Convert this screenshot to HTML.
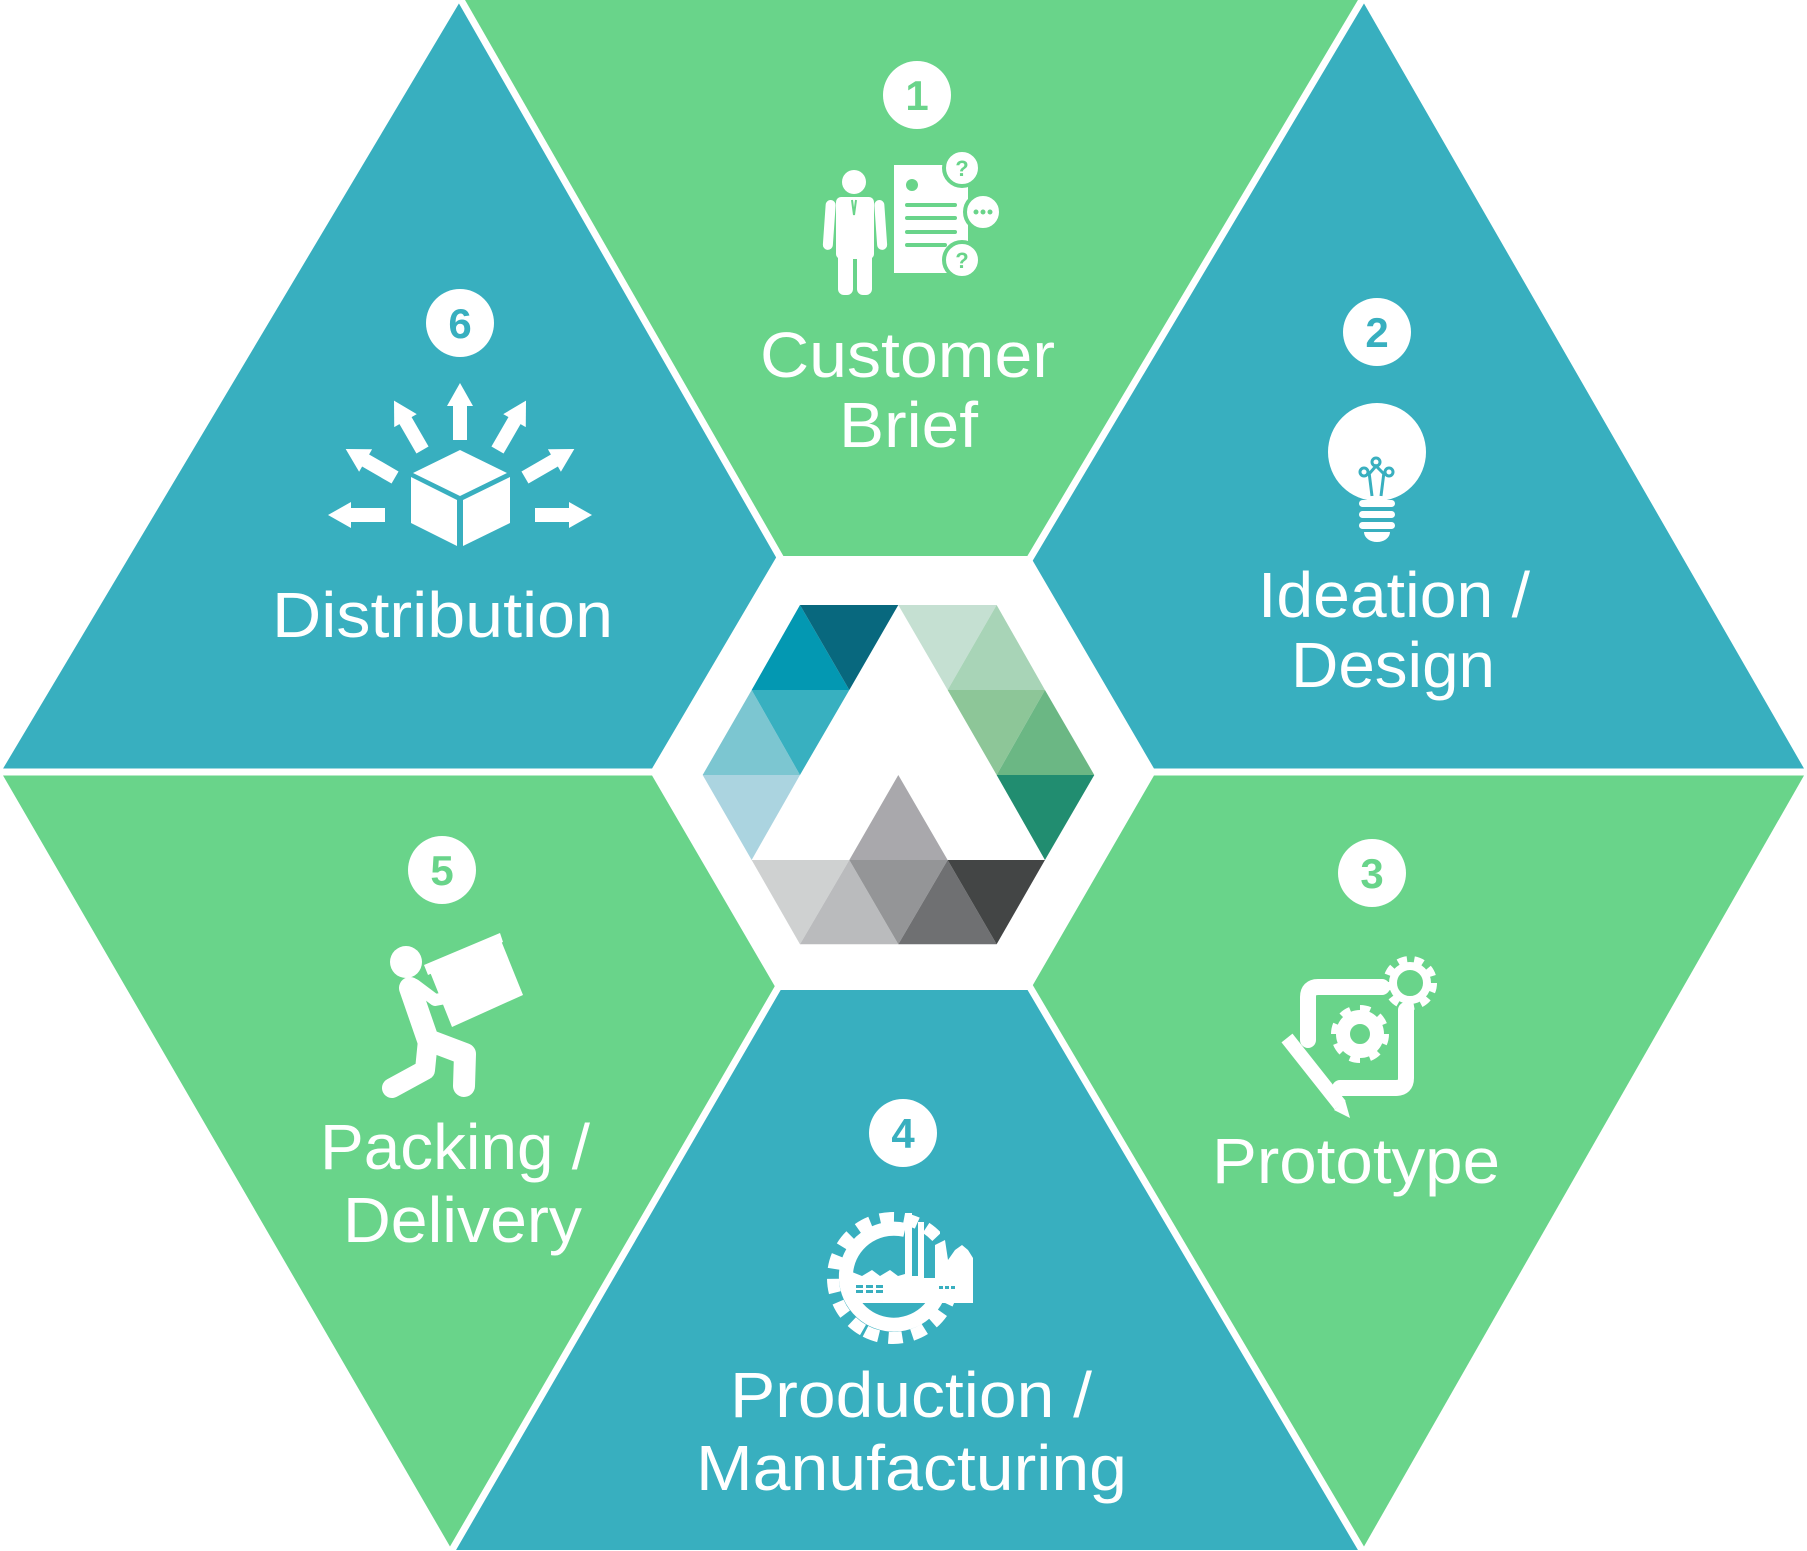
<!DOCTYPE html>
<html><head><meta charset="utf-8"><style>
html,body{margin:0;padding:0;background:#fff;}
svg{display:block;}
text{font-family:"Liberation Sans",sans-serif;fill:#fff;}
</style></head><body>
<svg width="1807" height="1551" viewBox="0 0 1807 1551" xmlns="http://www.w3.org/2000/svg">
<!-- six triangles -->
<polygon points="903,772 461,0 1362,0" fill="#69D48A"/>
<polygon points="903,772 1362,0 1806,772" fill="#38AFBF"/>
<polygon points="903,772 1806,772 1362,1550" fill="#69D48A"/>
<polygon points="903,772 1362,1550 452,1550" fill="#38AFBF"/>
<polygon points="903,772 452,1550 1,772" fill="#69D48A"/>
<polygon points="903,772 1,772 461,0" fill="#38AFBF"/>
<g stroke="#fff" stroke-width="7">
<line x1="903" y1="772" x2="461" y2="0"/>
<line x1="903" y1="772" x2="1362" y2="0"/>
<line x1="903" y1="772" x2="1806" y2="772"/>
<line x1="903" y1="772" x2="1362" y2="1550"/>
<line x1="903" y1="772" x2="452" y2="1550"/>
<line x1="903" y1="772" x2="1" y2="772"/>
</g>
<!-- central white hexagon -->
<polygon points="650,772 777,556 1030,556 1156,772 1030,990 777,990" fill="#fff"/>
<!-- logo -->
<g transform="translate(650,520) scale(0.3333)">
<polygon points="450,255 305,510 598,510" fill="#0398B2"/>
<polygon points="450,255 745,255 598,510" fill="#08687E"/>
<polygon points="745,255 1040,255 893,510" fill="#C5E0D2"/>
<polygon points="1040,255 893,510 1185,510" fill="#A8D4B7"/>
<polygon points="305,510 158,765 450,765" fill="#7CC6D1"/>
<polygon points="305,510 598,510 450,765" fill="#38B0C0"/>
<polygon points="893,510 1185,510 1040,765" fill="#8DC698"/>
<polygon points="1185,510 1040,765 1333,765" fill="#6BB784"/>
<polygon points="158,765 450,765 305,1020" fill="#ABD4E0"/>
<polygon points="1040,765 1333,765 1185,1020" fill="#218D70"/>
<polygon points="745,765 598,1020 893,1020" fill="#A9A8AC"/>
<polygon points="305,1020 598,1020 450,1273" fill="#CFD1D1"/>
<polygon points="598,1020 450,1273 745,1273" fill="#BABBBD"/>
<polygon points="598,1020 893,1020 745,1273" fill="#949597"/>
<polygon points="893,1020 745,1273 1040,1273" fill="#6F7072"/>
<polygon points="893,1020 1185,1020 1040,1273" fill="#434545"/>
</g>

<!-- badges -->
<g font-weight="bold" font-size="42" text-anchor="middle">
<circle cx="917" cy="95" r="34" fill="#fff"/><text x="917" y="110" style="fill:#69D48A">1</text>
<circle cx="1377" cy="332" r="34" fill="#fff"/><text x="1377" y="347" style="fill:#38AFBF">2</text>
<circle cx="1372" cy="873" r="34" fill="#fff"/><text x="1372" y="888" style="fill:#69D48A">3</text>
<circle cx="903" cy="1133" r="34" fill="#fff"/><text x="903" y="1148" style="fill:#38AFBF">4</text>
<circle cx="442" cy="870" r="34" fill="#fff"/><text x="442" y="885" style="fill:#69D48A">5</text>
<circle cx="460" cy="323" r="34" fill="#fff"/><text x="460" y="338" style="fill:#38AFBF">6</text>
</g>

<!-- labels -->
<g font-size="64">
<text x="760" y="377" textLength="295" lengthAdjust="spacingAndGlyphs">Customer</text>
<text x="839" y="447" textLength="139" lengthAdjust="spacingAndGlyphs">Brief</text>
<text x="1258" y="617" textLength="272" lengthAdjust="spacingAndGlyphs">Ideation /</text>
<text x="1291" y="687" textLength="204" lengthAdjust="spacingAndGlyphs">Design</text>
<text x="1212" y="1183" textLength="288" lengthAdjust="spacingAndGlyphs">Prototype</text>
<text x="730" y="1417" textLength="362" lengthAdjust="spacingAndGlyphs">Production /</text>
<text x="696" y="1490" textLength="431" lengthAdjust="spacingAndGlyphs">Manufacturing</text>
<text x="320" y="1169" textLength="270" lengthAdjust="spacingAndGlyphs">Packing /</text>
<text x="343" y="1242" textLength="239" lengthAdjust="spacingAndGlyphs">Delivery</text>
<text x="272" y="637" textLength="341" lengthAdjust="spacingAndGlyphs">Distribution</text>
</g>

<!-- icon 1: customer brief -->
<g fill="#fff">
<circle cx="854" cy="182" r="12"/>
<rect x="836" y="197" width="38" height="62" rx="5"/>
<rect x="826" y="200" width="10" height="50" rx="5" transform="rotate(4 831 200)"/>
<rect x="874" y="200" width="10" height="50" rx="5" transform="rotate(-4 879 200)"/>
<rect x="838" y="250" width="15" height="45" rx="6"/>
<rect x="857" y="250" width="15" height="45" rx="6"/>
<rect x="894" y="165" width="74" height="108"/>
</g>
<path d="M852 200 L854 215 L856 200" stroke="#69D48A" stroke-width="2" fill="none"/>
<circle cx="912" cy="185" r="6" fill="#69D48A"/>
<g stroke="#69D48A" stroke-width="4" stroke-linecap="round">
<line x1="907" y1="205" x2="955" y2="205"/><line x1="907" y1="218" x2="955" y2="218"/>
<line x1="907" y1="232" x2="955" y2="232"/><line x1="907" y1="245" x2="945" y2="245"/>
</g>
<g fill="#fff" stroke="#69D48A" stroke-width="4">
<circle cx="962" cy="168" r="18"/><circle cx="983" cy="212" r="18"/><circle cx="962" cy="260" r="18"/>
</g>
<g font-weight="bold" font-size="22" text-anchor="middle" style="fill:#69D48A">
<text x="962" y="176" style="fill:#69D48A">?</text><text x="962" y="268" style="fill:#69D48A">?</text>
</g>
<g fill="#69D48A"><circle cx="976" cy="212" r="2.5"/><circle cx="983" cy="212" r="2.5"/><circle cx="990" cy="212" r="2.5"/></g>

<!-- icon 2: bulb -->
<g fill="#fff">
<circle cx="1377" cy="452" r="49"/>
<rect x="1359" y="500" width="36" height="7" rx="3.5"/>
<rect x="1359" y="511" width="36" height="7" rx="3.5"/>
<rect x="1359" y="522" width="36" height="7" rx="3.5"/>
<path d="M1364 532 H1390 A13 10 0 0 1 1364 532 Z"/>
</g>
<g stroke="#38AFBF" stroke-width="3" fill="none">
<circle cx="1376" cy="462" r="4"/><circle cx="1364" cy="472" r="4"/><circle cx="1389" cy="472" r="4"/>
<path d="M1369 472 L1372 496 M1384 472 L1381 496 M1369 474 L1376 466 L1384 474"/>
</g>

<!-- icon 6: distribution -->
<g fill="#fff">
<polygon points="460,450 507,473 460,496 413,473"/>
<polygon points="411,477 457,500 457,546 411,523"/>
<polygon points="463,500 510,477 510,523 463,546"/>
</g>
<g fill="#fff">
<g transform="rotate(0 460 515)"><rect x="535" y="508" width="40" height="14"/><polygon points="569,502 592,515 569,528"/></g>
<g transform="rotate(-30 460 515)"><rect x="535" y="508" width="40" height="14"/><polygon points="569,502 592,515 569,528"/></g>
<g transform="rotate(-60 460 515)"><rect x="535" y="508" width="40" height="14"/><polygon points="569,502 592,515 569,528"/></g>
<g transform="rotate(-90 460 515)"><rect x="535" y="508" width="40" height="14"/><polygon points="569,502 592,515 569,528"/></g>
<g transform="rotate(-120 460 515)"><rect x="535" y="508" width="40" height="14"/><polygon points="569,502 592,515 569,528"/></g>
<g transform="rotate(-150 460 515)"><rect x="535" y="508" width="40" height="14"/><polygon points="569,502 592,515 569,528"/></g>
<g transform="rotate(-180 460 515)"><rect x="535" y="508" width="40" height="14"/><polygon points="569,502 592,515 569,528"/></g>
</g>

<!-- icon 3: prototype -->
<g fill="none" stroke="#fff" stroke-linecap="round">
<path d="M1382 987 H1318 Q1308 987 1308 997 V1040" stroke-width="16"/>
<path d="M1406 1010 V1078 Q1406 1088 1396 1088 H1340" stroke-width="16"/>
<circle cx="1410" cy="983" r="17" stroke-width="8"/>
<circle cx="1410" cy="983" r="23" stroke-width="8" stroke-dasharray="9 7.05" stroke-linecap="butt"/>
<circle cx="1360" cy="1034" r="17" stroke-width="14"/>
<circle cx="1360" cy="1034" r="25" stroke-width="8" stroke-dasharray="10 9.6" stroke-linecap="butt"/>
<line x1="1287" y1="1038" x2="1340" y2="1105" stroke-width="14" stroke-linecap="butt"/>
</g>
<polygon points="1334,1110 1345,1100 1350,1118" fill="#fff"/>

<!-- icon 4: factory gear -->
<g fill="none" stroke="#fff">
<path d="M905 1230 A48 48 0 1 0 940 1290" stroke-width="14"/>
<circle cx="893" cy="1278" r="60" stroke-width="12" stroke-dasharray="14 10" transform="rotate(120 893 1278)" stroke-dashoffset="0" style="stroke-dasharray:14 10;"/>
</g>
<rect x="940" y="1200" width="60" height="80" fill="#38AFBF" transform="rotate(0)"/>
<g fill="#fff">
<polygon points="852,1277 852,1272 862,1276 872,1270 880,1276 890,1270 898,1276 905,1274 905,1213 912,1213 912,1276 918,1276 918,1222 924,1222 924,1278 935,1278 935,1245 945,1240 948,1260 955,1250 962,1245 968,1250 973,1258 973,1303 852,1303"/>
</g>
<g fill="#38AFBF">
<rect x="856" y="1285" width="7" height="3"/><rect x="866" y="1285" width="7" height="3"/><rect x="876" y="1285" width="7" height="3"/>
<rect x="856" y="1290" width="7" height="3"/><rect x="866" y="1290" width="7" height="3"/><rect x="876" y="1290" width="7" height="3"/>
<rect x="939" y="1286" width="4" height="3"/><rect x="945" y="1286" width="4" height="3"/><rect x="951" y="1286" width="4" height="3"/>
</g>

<!-- icon 5: packing -->
<g fill="#fff">
<circle cx="406" cy="962" r="16"/>
<polygon points="430,972 500,938 523,995 452,1027"/>
<polygon points="424,965 500,933 503,942 428,975"/>
</g>
<g fill="none" stroke="#fff" stroke-linecap="round" stroke-linejoin="round">
<path d="M410 988 L428 1040 L465 1054 L464 1086" stroke-width="22"/>
<path d="M428 1040 L425 1070 L392 1088" stroke-width="20"/>
<path d="M415 985 L435 1000 L462 995" stroke-width="12"/>
</g>
</svg>
</body></html>
